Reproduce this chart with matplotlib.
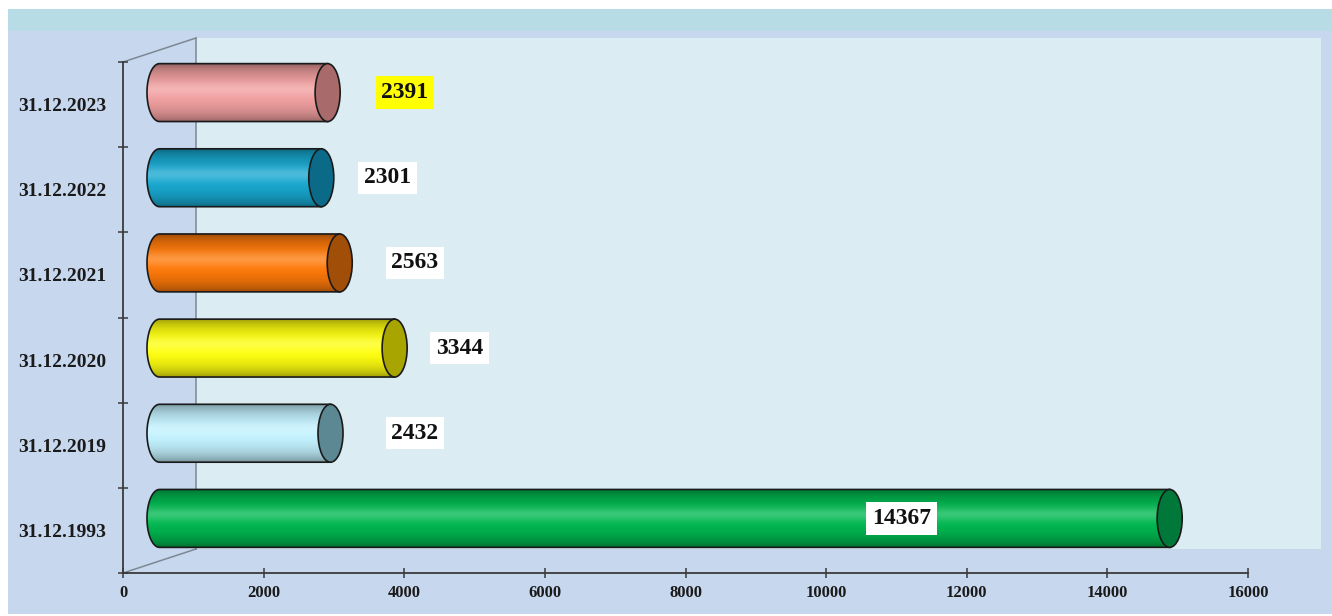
import numpy as np
import matplotlib
matplotlib.use("Agg")
import matplotlib.pyplot as plt
from matplotlib.patches import Rectangle, Ellipse, Polygon
from matplotlib.transforms import ScaledTranslation
from matplotlib.colors import to_rgb

# ---- data (bottom -> top) ----
dates = ['31.12.1993', '31.12.2019', '31.12.2020', '31.12.2021', '31.12.2022', '31.12.2023']
values = [14367, 2432, 3344, 2563, 2301, 2391]
body_colors = ['#00b850', '#c2f2ff', '#ffff10', '#ff7a0a', '#18a8d0', '#f2a0a0']
cap_colors = ['#00783a', '#5c8894', '#a8a400', '#a04e08', '#0b6a88', '#a86a6a']
label_x = [10550, 3630, 4270, 3630, 3240, 3490]
label_bg = ['white', 'white', 'white', 'white', 'white', '#ffff00']
x_ticks = list(range(0, 16001, 2000))

W, H, DPI = 1332, 616, 100
DEPTH_X, DEPTH_Y = 73, 24      # 3D depth offset in pixels
BAR_H = 0.68
CAP_W = 356                    # ellipse width in data units

fig = plt.figure(figsize=(W / DPI, H / DPI), dpi=DPI, facecolor='white')

# background frame
bg = fig.add_axes([0, 0, 1, 1], zorder=0)
bg.add_patch(Rectangle((8, 9), W - 8, H - 11, facecolor='#c7d7ee', edgecolor='none'))
bg.add_patch(Rectangle((8, 9), W - 8, 22, facecolor='#b7dce6', edgecolor='none'))
grad = np.linspace(0, 1, 20)[:, None, None]
c1, c2 = np.array(to_rgb('#b7dce6')), np.array(to_rgb('#c7d7ee'))
bg.imshow(c1 * (1 - grad) + c2 * grad, extent=(8, W, 38, 31), aspect='auto')
bg.set_xlim(0, W)
bg.set_ylim(H, 0)
bg.axis('off')

# main axes = front plane
ax = fig.add_axes([123 / W, (H - 573) / H, 1125 / W, 511 / H], zorder=1)
ax.set_facecolor('none')
ax.set_xlim(0, 16000)
ax.set_ylim(-0.5, 5.5)

mid = ax.transData + ScaledTranslation(DEPTH_X / 2 / DPI, DEPTH_Y / 2 / DPI, fig.dpi_scale_trans)
back = ax.transData + ScaledTranslation(DEPTH_X / DPI, DEPTH_Y / DPI, fig.dpi_scale_trans)

# back wall + side wall edges
ax.add_patch(Rectangle((0, -0.5), 16000, 6, transform=back, facecolor='#dbedf3',
                       edgecolor='none', zorder=0.2, clip_on=False))
ax.plot([0, 0], [-0.5, 5.5], transform=back, color='#7d8893', lw=1.1, zorder=0.3, clip_on=False)
inv = ax.transData.inverted()
for yy in (-0.5, 5.5):
    bx, by = inv.transform(back.transform((0, yy)))
    ax.plot([0, bx], [yy, by], color='#7d8893', lw=1.1, zorder=0.3, clip_on=False)

# cylinder shading profile
t = np.linspace(0, 1, 120)
shade = 0.58 + 0.42 * np.sin(np.pi * t) ** 0.6
glow = np.exp(-((t - 0.57) / 0.12) ** 2)

a = CAP_W / 2
for i, (v, bc, cc) in enumerate(zip(values, body_colors, cap_colors)):
    yc = i
    y0, y1 = yc - BAR_H / 2, yc + BAR_H / 2
    base = np.array(to_rgb(bc))
    cols = base[None, :] * shade[:, None]
    cols = cols * (1 - 0.22 * glow[:, None]) + 0.22 * glow[:, None]
    img = np.clip(cols, 0, 1)[:, None, :]

    th = np.linspace(0, np.pi, 40)
    left = np.column_stack([-a * np.sin(th), yc - BAR_H / 2 * np.cos(th)])
    pts = np.vstack([left, [[v, y1], [v, y0]]])
    body = Polygon(pts, closed=True, transform=mid, facecolor='none',
                   edgecolor='#1a1a1a', lw=1.2, zorder=2, clip_on=False)
    im = ax.imshow(img, extent=(-a, v, y0, y1), origin='lower', aspect='auto',
                   transform=mid, zorder=1.9, interpolation='bilinear')
    ax.add_patch(body)
    im.set_clip_path(body)
    ax.add_patch(Ellipse((v, yc), CAP_W, BAR_H, transform=mid, facecolor=cc,
                         edgecolor='#1a1a1a', lw=1.2, zorder=2.1, clip_on=False))

    ax.text(label_x[i], yc, f'{v}', transform=mid, ha='center', va='center',
            fontsize=17, fontweight='bold', family='Liberation Serif', color='#111111',
            zorder=3, bbox=dict(boxstyle='square,pad=0.24', facecolor=label_bg[i], edgecolor='none'))

ax.set_xlim(0, 16000)
ax.set_ylim(-0.5, 5.5)

# axes styling
for s in ('top', 'right'):
    ax.spines[s].set_visible(False)
for s in ('left', 'bottom'):
    ax.spines[s].set_color('#3a3a3a')
    ax.spines[s].set_linewidth(1.3)
    ax.spines[s].set_zorder(4)

ax.set_xticks(x_ticks)
ax.set_xticklabels([str(x) for x in x_ticks], fontsize=12, fontweight='bold',
                   family='Liberation Serif', color='#1a1a1a')
ax.tick_params(axis='x', direction='inout', length=7, width=1.1, color='#3a3a3a', pad=5)

ax.set_yticks(range(len(dates)))
ax.set_yticklabels(dates, fontsize=14, fontweight='bold', family='Liberation Serif', color='#1a1a1a')
ax.set_yticks(np.arange(-0.5, 5.6, 1), minor=True)
ax.tick_params(axis='y', which='major', length=0, pad=12)
ax.tick_params(axis='y', which='minor', direction='inout', length=7, width=1.1, color='#3a3a3a')

fig.savefig('out.png', dpi=DPI, facecolor='white')
